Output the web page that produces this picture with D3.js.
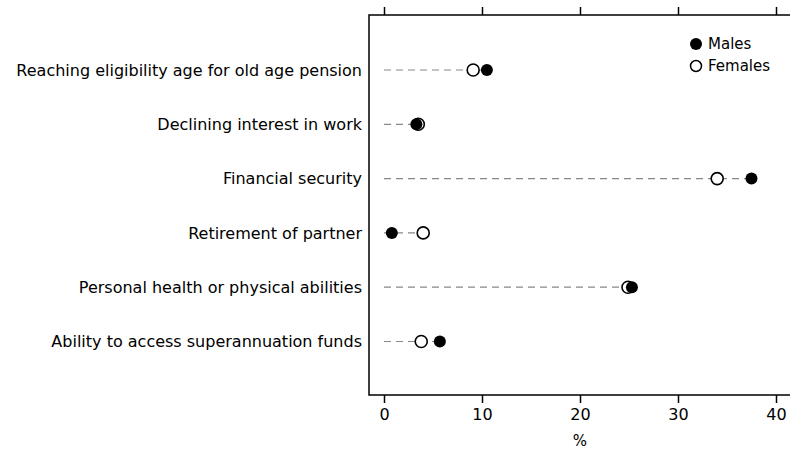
<!DOCTYPE html>
<html>
<head>
<meta charset="utf-8">
<script src="https://cdn.jsdelivr.net/npm/d3@7"></script>
<style>
  body { margin: 0; background: #fff; overflow: hidden; }
  text { font-family: "DejaVu Sans", sans-serif; fill: #000; }
</style>
</head>
<body>
<svg id="chart" width="790" height="452"></svg>
<script>
// reasons for retiring, by sex (%)
var categories = [
    "Reaching eligibility age for old age pension",
    "Declining interest in work",
    "Financial security",
    "Retirement of partner",
    "Personal health or physical abilities",
    "Ability to access superannuation funds"
];
var males = [10.5, 3.3, 37.5, 0.8, 25.3, 5.7];
var females = [9.1, 3.5, 34.0, 4.0, 24.9, 3.8];
var xTicks = [0, 10, 20, 30, 40];

var svg = d3.select("#chart"),
    boxLeft = 369, boxTop = 15, boxBottom = 395, boxRight = 790,
    r = 6;

var x = d3.scaleLinear().domain([0, 40]).range([384, 776]);
var y = d3.scalePoint().domain(categories).range([70, 341.5]);

// frame (right side runs off the picture)
svg.append("path")
    .attr("d", "M" + boxRight + "," + boxTop + "H" + boxLeft + "V" + boxBottom + "H" + boxRight)
    .attr("fill", "none").attr("stroke", "#000").attr("stroke-width", 1.5);

// bottom axis
var xAxis = svg.append("g")
    .attr("transform", "translate(0," + boxBottom + ")")
    .call(d3.axisBottom(x).tickValues(xTicks).tickSize(8).tickPadding(6).tickFormat(d3.format("d")));
xAxis.select(".domain").remove();
xAxis.selectAll("line").attr("stroke-width", 1.5);
xAxis.selectAll("text").style("font-size", "16px").style("font-family", "DejaVu Sans, sans-serif");

// top ticks, no labels
var topAxis = svg.append("g")
    .attr("transform", "translate(0," + boxTop + ")")
    .call(d3.axisTop(x).tickValues(xTicks).tickSize(8).tickFormat(""));
topAxis.select(".domain").remove();
topAxis.selectAll("line").attr("stroke-width", 1.5);

svg.append("text")
    .attr("x", x(20)).attr("y", 446)
    .attr("text-anchor", "middle")
    .style("font-size", "15px")
    .text("%");

// category labels
svg.selectAll(".cat")
    .data(categories)
    .enter().append("text")
    .attr("class", "cat")
    .attr("x", 362)
    .attr("y", function (d) { return y(d); })
    .attr("dy", "0.35em")
    .attr("text-anchor", "end")
    .style("font-size", "16px")
    .text(function (d) { return d; });

// dashed guide from 0 to the larger value
svg.selectAll(".guide")
    .data(categories)
    .enter().append("line")
    .attr("class", "guide")
    .attr("x1", x(0))
    .attr("x2", function (d, i) { return x(Math.max(males[i], females[i])); })
    .attr("y1", function (d) { return y(d); })
    .attr("y2", function (d) { return y(d); })
    .attr("stroke", "#888")
    .attr("stroke-width", 1.2)
    .attr("stroke-dasharray", "7,5");

svg.selectAll(".fem")
    .data(categories)
    .enter().append("circle")
    .attr("class", "fem")
    .attr("cx", function (d, i) { return x(females[i]); })
    .attr("cy", function (d) { return y(d); })
    .attr("r", r)
    .attr("fill", "#fff").attr("stroke", "#000").attr("stroke-width", 1.6);

svg.selectAll(".male")
    .data(categories)
    .enter().append("circle")
    .attr("class", "male")
    .attr("cx", function (d, i) { return x(males[i]); })
    .attr("cy", function (d) { return y(d); })
    .attr("r", r)
    .attr("fill", "#000");

// legend
var legend = svg.append("g").attr("transform", "translate(696,44)");
legend.append("circle").attr("r", 6).attr("fill", "#000");
legend.append("text").attr("x", 12).attr("dy", "0.35em").style("font-size", "15px").text("Males");
legend.append("circle").attr("cy", 22).attr("r", 5.5).attr("fill", "#fff").attr("stroke", "#000").attr("stroke-width", 1.5);
legend.append("text").attr("x", 12).attr("y", 22).attr("dy", "0.35em").style("font-size", "15px").text("Females");
</script>
</body>
</html>
